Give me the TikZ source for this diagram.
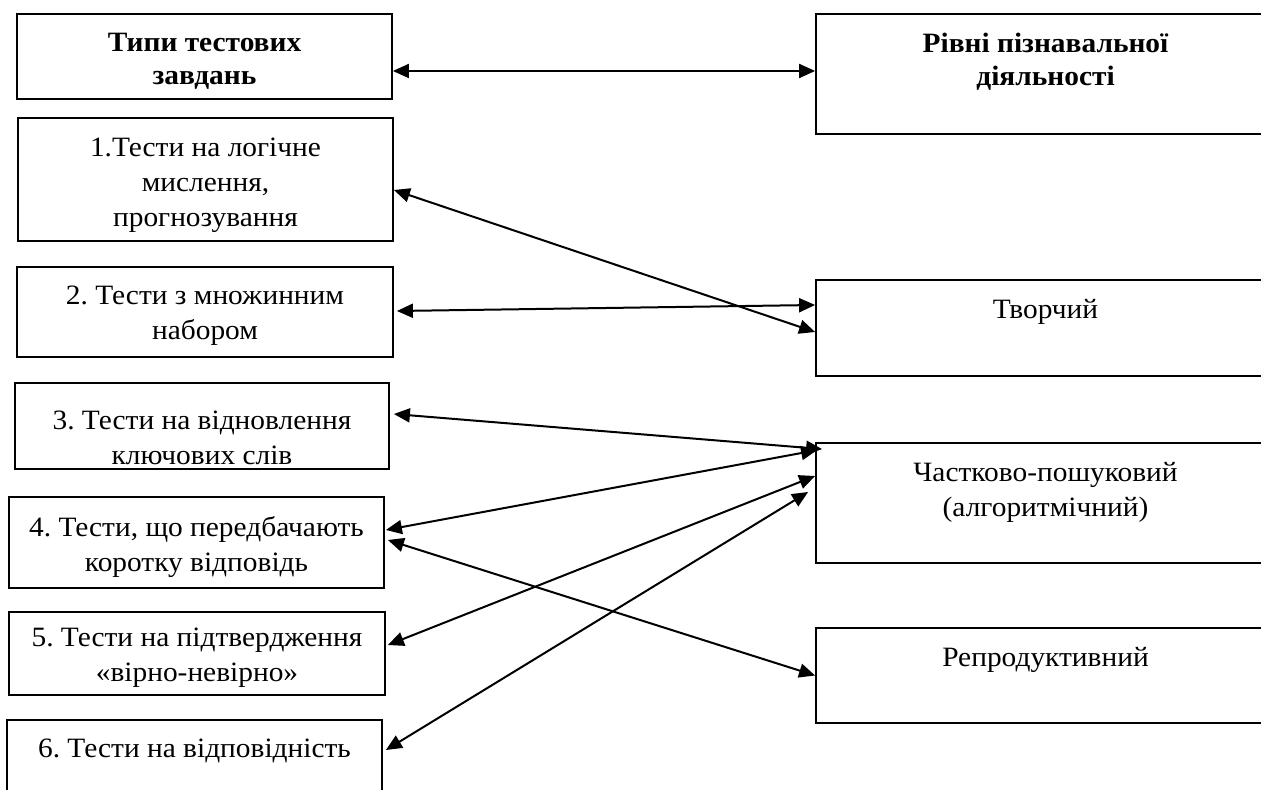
\documentclass[tikz,border=0pt]{standalone}
\usepackage{fontspec}
\setmainfont{Liberation Serif}[FakeStretch=1.05]
\usetikzlibrary{arrows.meta}
\frenchspacing
\begin{document}
\begin{tikzpicture}[x=0.5pt,y=-0.5pt,
  bx/.style 2 args={draw, line width=0.9pt, minimum width=#1, minimum height=#2, inner sep=0pt},
  txt/.style={anchor=north, inner sep=0pt, align=center, font=\fontsize{14}{17.5}\selectfont},
  hdr/.style={txt, font=\bfseries\fontsize{14}{16.5}\selectfont},
  arr/.style={line width=1pt, {Triangle[length=8pt,width=7pt]}-{Triangle[length=8pt,width=7pt]}}]
\useasboundingbox (0,0) rectangle (1261,790);
% left column
\node[bx={187.5pt}{42.5pt}, label={[hdr, yshift=-9.75pt]north:Типи тестових\\завдань}] (hl) at (204.5,56.5) {};
\node[bx={187.5pt}{61.5pt}, label={[txt, yshift=-10.25pt]north:1.Тести на логічне\\мислення,\\прогнозування}] (b1) at (205.5,179.5) {};
\node[bx={188pt}{45pt}, label={[txt, yshift=-9.75pt]north:2. Тести з множинним\\набором}] (b2) at (205,312) {};
\node[bx={187pt}{43pt}, label={[txt, yshift=-14pt]north:3. Тести на відновлення\\ключових слів}] (b3) at (202,426) {};
\node[bx={187.5pt}{45.5pt}, label={[txt, yshift=-9.75pt]north:4. Тести, що передбачають\\коротку відповідь}] (b4) at (196.5,542.5) {};
\node[bx={188pt}{41.5pt}, label={[txt, yshift=-8.25pt]north:5. Тести на підтвердження\\«вірно-невірно»}] (b5) at (197,653.5) {};
\node[bx={187.5pt}{40pt}, label={[txt, yshift=-9.75pt]north:6. Тести на відповідність}] (b6) at (194.5,760) {};
% right column
\node[bx={229.5pt}{60pt}, label={[hdr, yshift=-9.75pt]north:Рівні пізнавальної\\діяльності}] (hr) at (1045.5,74) {};
\node[bx={229.5pt}{48pt}, label={[txt, yshift=-9.75pt]north:Творчий}] (r1) at (1045.5,328) {};
\node[bx={229.5pt}{60pt}, label={[txt, yshift=-9.75pt]north:Частково-пошуковий\\(алгоритмічний)}] (r2) at (1045.5,503) {};
\node[bx={229.5pt}{47.5pt}, label={[txt, yshift=-9.75pt]north:Репродуктивний}] (r3) at (1045.5,675.5) {};
% connectors
\draw[arr] ([yshift=-7.25pt]hl.east) -- ([yshift=1.5pt]hr.west);
\draw[arr] ([yshift=-5.25pt]b1.east) -- ([yshift=-2pt]r1.west);
\draw[arr] ([xshift=1.5pt,yshift=0.5pt]b2.east) -- ([yshift=11.5pt]r1.west);
\draw[arr] ([xshift=2pt,yshift=6pt]b3.east) -- ([xshift=3.5pt,yshift=-3.5pt]r2.north west);
\draw[arr] ([xshift=0.5pt,yshift=6.25pt]b4.east) -- ([xshift=1pt,yshift=-4pt]r2.north west);
\draw[arr] ([xshift=1.5pt,yshift=1.25pt]b4.east) -- (r3.west);
\draw[arr] ([xshift=1pt,yshift=4.25pt]b5.east) -- ([yshift=13.5pt]r2.west);
\draw[arr] ([xshift=1.5pt,yshift=5pt]b6.east) -- ([xshift=-3.5pt,yshift=5.5pt]r2.west);
\end{tikzpicture}
\end{document}
